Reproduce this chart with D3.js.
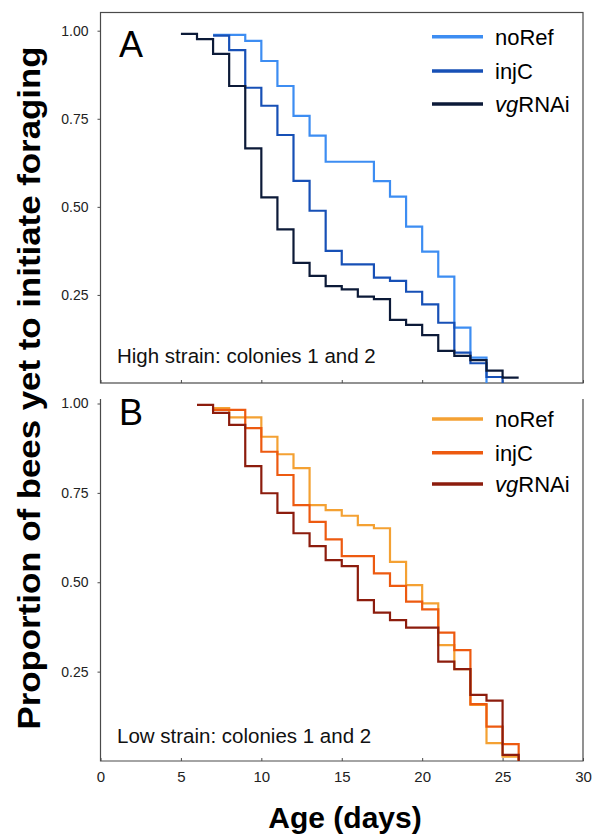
<!DOCTYPE html>
<html>
<head>
<meta charset="utf-8">
<script src="https://cdn.jsdelivr.net/npm/d3@7"></script>
<style>
  html, body { margin: 0; padding: 0; background: #fff; }
  svg { display: block; font-family: "Liberation Sans", Arial, sans-serif; }
</style>
</head>
<body>
<svg id="chart" width="608" height="840"></svg>
<script>
// ---- Data (day, proportion yet to initiate foraging) ----
const seriesNames = ["noRef", "injC", "vgRNAi"];

// Panel A: High strain
const highNoRef = [[7,0.988],[9,0.971],[10,0.914],[11,0.843],[12,0.758],[13,0.702],[14,0.628],[17,0.573],[18,0.529],[19,0.444],[20,0.373],[21,0.302],[22,0.157],[23,0.072],[24,0]];
const highInjC = [[7,0.986],[8,0.945],[9,0.838],[10,0.787],[11,0.704],[12,0.574],[13,0.489],[14,0.375],[15,0.337],[17,0.299],[18,0.290],[19,0.259],[20,0.223],[21,0.171],[22,0.086],[23,0.056],[24,0.017],[25,0]];
const highVgRNAi = [[5,0.991],[6,0.976],[7,0.934],[8,0.843],[9,0.666],[10,0.527],[11,0.436],[12,0.341],[13,0.304],[14,0.275],[15,0.266],[16,0.245],[17,0.238],[18,0.179],[19,0.165],[20,0.136],[21,0.091],[22,0.077],[23,0.065],[24,0.035],[25,0.015],[26,0.015]];

// Panel B: Low strain
const lowNoRef = [[7,0.987],[8,0.961],[10,0.907],[11,0.858],[12,0.819],[13,0.716],[14,0.702],[15,0.686],[16,0.660],[17,0.651],[18,0.557],[19,0.492],[20,0.441],[21,0.324],[22,0.257],[23,0.157],[24,0.050],[25,0.012],[26,0]];
const lowInjC = [[7,0.982],[9,0.931],[10,0.865],[11,0.800],[12,0.716],[13,0.669],[14,0.620],[15,0.573],[17,0.525],[18,0.490],[19,0.446],[20,0.424],[21,0.359],[22,0.310],[23,0.159],[24,0.096],[25,0.047],[26,0]];
const lowVgRNAi = [[6,0.996],[7,0.974],[8,0.940],[9,0.825],[10,0.749],[11,0.694],[12,0.637],[13,0.601],[14,0.562],[15,0.545],[16,0.450],[17,0.415],[18,0.394],[19,0.373],[21,0.278],[22,0.257],[23,0.185],[24,0.169],[25,0.017],[26,0]];

const xTicks = [0, 5, 10, 15, 20, 25, 30];
const yTicks = [0.25, 0.50, 0.75, 1.00];
const colorsHigh = ["#3d8df2", "#1750b6", "#0c1a38"];
const colorsLow = ["#f4a133", "#ed5a10", "#8c1c0d"];

// ---- Drawing ----
const svg = d3.select("#chart");
const x = d3.scaleLinear().domain([0, 30]).range([100.5, 583]);
const yA = d3.scaleLinear().domain([0, 1]).range([383, 30.7]);
const yB = d3.scaleLinear().domain([0, 1]).range([761, 403.5]);
const axisColor = "#4a4a4a";

function drawPanel(y, series, colors, opts) {
  const g = svg.append("g");
  // frame
  if (opts.fullFrame) {
    g.append("rect").attr("x", 100.5).attr("y", 12.5).attr("width", 482.5).attr("height", 370.5)
      .attr("fill", "none").attr("stroke", axisColor).attr("stroke-width", 1.2);
  } else {
    g.append("path").attr("d", "M100.5,399V761H583V399")
      .attr("fill", "none").attr("stroke", axisColor).attr("stroke-width", 1.2);
  }
  // y axis
  const ya = g.append("g").attr("transform", "translate(100.5,0)")
    .call(d3.axisLeft(y).tickValues(yTicks).tickFormat(d3.format(".2f")).tickSize(3).tickPadding(9));
  ya.select(".domain").remove();
  ya.selectAll("line").attr("stroke", axisColor);
  ya.selectAll("text").attr("font-size", 14).attr("fill", "#222").attr("font-family", "Liberation Sans, Arial, sans-serif");
  // x axis (inward ticks)
  const baseY = y.range()[0];
  const xa = g.append("g").attr("transform", `translate(0,${baseY})`)
    .call(d3.axisBottom(x).tickValues(xTicks).tickSize(-3).tickPadding(10)
      .tickFormat(opts.xLabels ? d3.format("d") : () => ""));
  xa.select(".domain").remove();
  xa.selectAll("line").attr("stroke", axisColor);
  xa.selectAll("text").attr("font-size", 15).attr("fill", "#222").attr("font-family", "Liberation Sans, Arial, sans-serif");

  // curves
  const line = d3.line().x(d => x(d[0])).y(d => y(d[1])).curve(d3.curveStepAfter);
  series.forEach((s, i) => {
    g.append("path").datum(s).attr("d", line)
      .attr("fill", "none").attr("stroke", colors[i]).attr("stroke-width", 2.2);
  });

  // panel letter
  g.append("text").attr("x", 119).attr("y", opts.letterY).attr("font-size", 36)
    .attr("fill", "#000").text(opts.letter);

  // legend
  opts.legendY.forEach((ly, i) => {
    g.append("line").attr("x1", 432).attr("x2", 483).attr("y1", ly).attr("y2", ly)
      .attr("stroke", colors[i]).attr("stroke-width", 3.6);
    const t = g.append("text").attr("x", 495).attr("y", ly + 8).attr("font-size", 22).attr("fill", "#000");
    if (seriesNames[i] === "vgRNAi") {
      t.append("tspan").attr("font-style", "italic").text("vg");
      t.append("tspan").text("RNAi");
    } else {
      t.text(seriesNames[i]);
    }
  });

  // annotation
  g.append("text").attr("x", 117).attr("y", opts.noteY).attr("font-size", 20.5)
    .attr("fill", "#111").text(opts.note);
}

drawPanel(yA, [highNoRef, highInjC, highVgRNAi], colorsHigh, {
  fullFrame: true, xLabels: false, letter: "A", letterY: 57,
  legendY: [36.7, 71, 104], note: "High strain: colonies 1 and 2", noteY: 363
});
drawPanel(yB, [lowNoRef, lowInjC, lowVgRNAi], colorsLow, {
  fullFrame: false, xLabels: true, letter: "B", letterY: 425,
  legendY: [419, 452.7, 484], note: "Low strain: colonies 1 and 2", noteY: 743
});

// axis titles
svg.append("text").attr("transform", "translate(40,388) rotate(-90)")
  .attr("text-anchor", "middle").attr("font-size", 31).attr("font-weight", "bold")
  .attr("font-family", "'Liberation Sans Narrow', 'Arial Narrow', 'Liberation Sans', sans-serif")
  .attr("textLength", 683).attr("lengthAdjust", "spacingAndGlyphs")
  .attr("fill", "#000").text("Proportion of bees yet to initiate foraging");
svg.append("text").attr("x", 345).attr("y", 828).attr("text-anchor", "middle")
  .attr("font-size", 30).attr("font-weight", "bold").attr("fill", "#000").text("Age (days)");
</script>
</body>
</html>
